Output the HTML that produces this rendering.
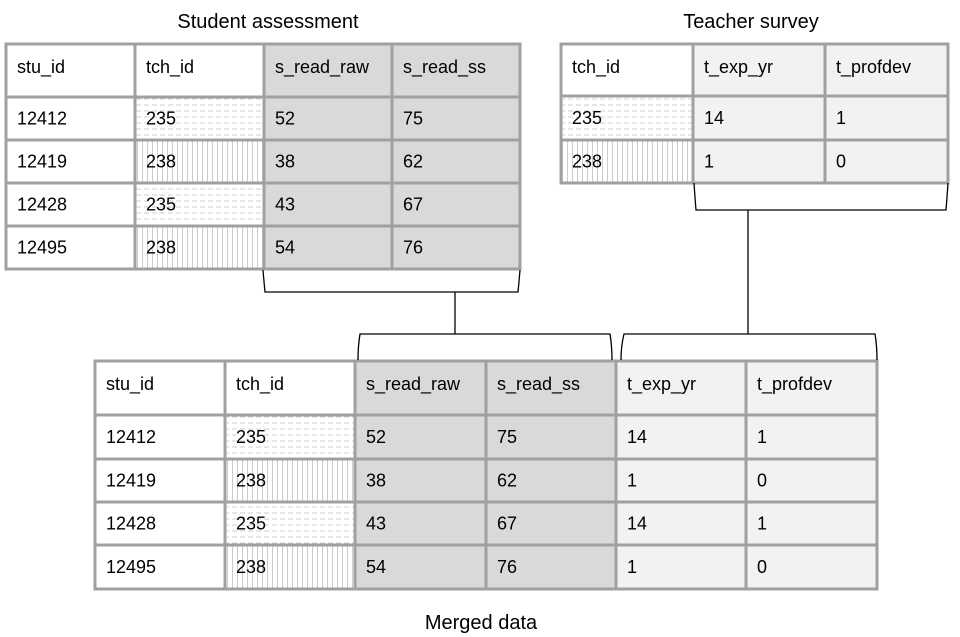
<!DOCTYPE html>
<html><head><meta charset="utf-8"><style>
html,body{margin:0;padding:0;background:#fff;}
svg{display:block;font-family:"Liberation Sans",Arial,sans-serif;}
</style></head><body>
<svg id="s" width="960" height="637" viewBox="0 0 960 637">
<defs>
<pattern id="ph" width="8" height="6" patternUnits="userSpaceOnUse"><line x1="0" y1="3" x2="5" y2="3" stroke="#ccc" stroke-width="1"/></pattern>
<pattern id="pv" width="5" height="10" patternUnits="userSpaceOnUse"><line x1="2.5" y1="0" x2="2.5" y2="10" stroke="#ccc" stroke-width="1"/></pattern>
</defs>
<text x="268" y="28" font-size="20" text-anchor="middle">Student assessment</text>
<text x="751" y="28" font-size="20" text-anchor="middle">Teacher survey</text>
<text x="481" y="629" font-size="20" text-anchor="middle">Merged data</text>
<g id="tables"></g>
<g fill="none" stroke="#000" stroke-width="1.3">
<path d="M263 270 Q264 282 265 292 L518 292 Q519 282 520 270"/>
<path d="M455 292 L455 334"/>
<path d="M358 360 Q358 346 360 334 L610 334 Q612 346 612 360"/>
<path d="M694 183 Q695 198 696 210 L946 210 Q947 198 948 183"/>
<path d="M748 210 L748 334"/>
<path d="M621 360 Q621 346 624 334 L875 334 Q877 346 877 360"/>
</g>
</svg>
<script>
const studentHeaders=["stu_id","tch_id","s_read_raw","s_read_ss"];
const studentRows=[["12412","235","52","75"],["12419","238","38","62"],["12428","235","43","67"],["12495","238","54","76"]];
const teacherHeaders=["tch_id","t_exp_yr","t_profdev"];
const teacherRows=[["235","14","1"],["238","1","0"]];
const mergedHeaders=["stu_id","tch_id","s_read_raw","s_read_ss","t_exp_yr","t_profdev"];
const mergedRows=[["12412","235","52","75","14","1"],["12419","238","38","62","1","0"],["12428","235","43","67","14","1"],["12495","238","54","76","1","0"]];
const NS="http://www.w3.org/2000/svg";
const g=document.getElementById('tables');
function mk(t,a,p){const e=document.createElementNS(NS,t);for(const k in a)e.setAttribute(k,a[k]);p.appendChild(e);return e;}
function table(name,cols,rows,headers,data,colFill,tchCol){
  const tg=mk('g',{},g);
  
  
  const all=[headers].concat(data);
  for(let r=0;r<all.length;r++){
    for(let c=0;c<headers.length;c++){
      const x=cols[c],y=rows[r],w=cols[c+1]-x,h=rows[r+1]-y;
      mk('rect',{x:x,y:y,width:w,height:h,fill:colFill[c]},tg);
      if(r>0&&c===tchCol){
        mk('rect',{x:x,y:y,width:w,height:h,fill:all[r][c]==="235"?"url(#ph)":"url(#pv)"},tg);
      }
      const t=mk('text',{x:x+11,y:r===0?y+29:y+h/2+6,'font-size':18,fill:'#000'},tg);
      t.textContent=all[r][c];
      
      
    }
  }
  for(const x of cols)mk('line',{x1:x,y1:rows[0],x2:x,y2:rows[rows.length-1],stroke:'#a0a0a0','stroke-width':3},tg);
  for(const y of rows)mk('line',{x1:cols[0]-1.5,y1:y,x2:cols[cols.length-1]+1.5,y2:y,stroke:'#a0a0a0','stroke-width':3},tg);
}
table('student-table',[6,135,264,392,520],[44,97,140,183,226,269],studentHeaders,studentRows,['#fff','#fff','#d9d9d9','#d9d9d9'],1);
table('teacher-table',[561,693,825,948],[44,96,140,183],teacherHeaders,teacherRows,['#fff','#f2f2f2','#f2f2f2'],0);
table('merged-table',[95,225,355,486,616,746,877],[361,415,459,502,545,589],mergedHeaders,mergedRows,['#fff','#fff','#d9d9d9','#d9d9d9','#f2f2f2','#f2f2f2'],1);
</script>
</body></html>
